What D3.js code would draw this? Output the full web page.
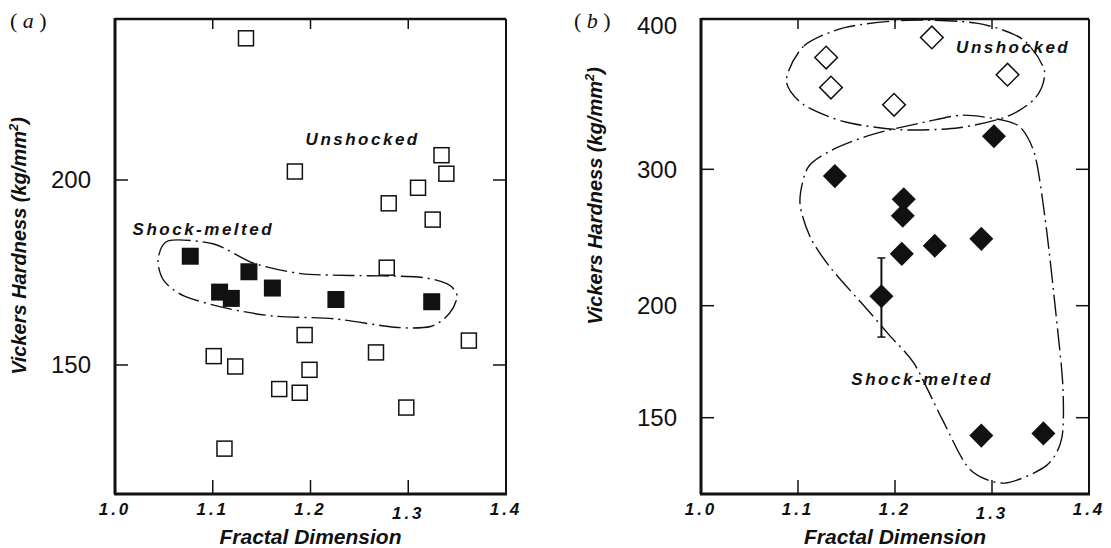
<!DOCTYPE html>
<html>
<head>
<meta charset="utf-8">
<script src="https://cdn.jsdelivr.net/npm/d3@7/dist/d3.min.js"></script>
<style>
  body { margin: 0; background: #fff; }
  text { font-family: "Liberation Sans", Arial, sans-serif; fill: #111; }
</style>
</head>
<body>
<div id="chart"></div>
<script>
// Panel (a) data: fractal dimension vs Vickers hardness
// ======================================================
var aUnshockedDim  = [1.134, 1.184, 1.334, 1.339, 1.310, 1.280, 1.325, 1.278, 1.194, 1.362, 1.267, 1.101, 1.123, 1.199, 1.168, 1.189, 1.298, 1.112];
var aUnshockedHard = [238.3, 202.3, 206.7, 201.7, 197.9, 193.7, 189.3, 176.3, 158.1, 156.6, 153.4, 152.4, 149.6, 148.7, 143.5, 142.5, 138.5, 127.4];
var aMeltedDim  = [1.077, 1.137, 1.107, 1.119, 1.161, 1.226, 1.324];
var aMeltedHard = [179.4, 175.2, 169.7, 168.0, 170.8, 167.7, 167.1];

// Panel (b) data
// ==============
var bUnshockedDim  = [1.238, 1.129, 1.316, 1.134, 1.199];
var bUnshockedHard = [392, 378, 366, 357, 345];
var bMeltedDim  = [1.302, 1.138, 1.209, 1.208, 1.207, 1.241, 1.289, 1.186, 1.289, 1.353];
var bMeltedHard = [323, 295, 278, 266, 238, 244, 249, 207, 142, 143];
// one error bar (on the point at 1.186)
var bErrDim = [1.186];
var bErrLow = [186];
var bErrHigh = [235];

// tick values
var xTicks = [1.0, 1.1, 1.2, 1.3, 1.4];
var aYTicks = [150, 200];
var bYTicks = [150, 200, 300, 400];

// hand drawn group outlines, in data units
var aMeltedOutline = [[1.044,178.5],[1.055,183.6],[1.101,182.7],[1.142,177.5],[1.190,174.7],[1.241,174.2],[1.310,173.8],[1.340,171.9],[1.350,168.6],[1.342,163.9],[1.323,160.4],[1.286,160.2],[1.224,162.5],[1.163,163.2],[1.115,165.3],[1.071,168.6],[1.050,172.8]];
var bUnshockedOutline = [[1.088,362],[1.106,386],[1.149,399],[1.213,404],[1.284,402],[1.331,391],[1.354,369],[1.345,350],[1.316,337],[1.266,329],[1.206,327.6],[1.149,333],[1.106,345]];
var bMeltedOutline = [[1.313,334],[1.331,328],[1.345,308],[1.356,257],[1.366,196],[1.373,164.5],[1.372,141],[1.356,128.6],[1.313,120.8],[1.277,127],[1.249,149],[1.220,174],[1.195,186.4],[1.170,199],[1.135,226.5],[1.113,249.7],[1.102,275.5],[1.110,301],[1.135,313.4],[1.177,324.4],[1.231,333],[1.270,337.8]];

var svgWidth = 1111;
var svgHeight = 548;

var svg = d3.select("#chart")
  .append("svg")
  .attr("width", svgWidth)
  .attr("height", svgHeight);

var dashDot = "22,5,2,5";

// Draw one panel: frame, ticks, labels
// ====================================
function drawFrame(p) {
  var g = svg.append("g");
  var x = p.x, y = p.y;
  var x0 = x.range()[0], x1 = x.range()[1];
  var top = p.top, bottom = p.bottom;

  // frame
  g.append("line").attr("x1", x0).attr("x2", x1).attr("y1", top).attr("y2", top)
    .attr("stroke", "#111").attr("stroke-width", 2.5);
  g.append("line").attr("x1", x1).attr("x2", x1).attr("y1", top).attr("y2", bottom)
    .attr("stroke", "#111").attr("stroke-width", 2);
  g.append("line").attr("x1", x0 - 1).attr("x2", x1 + 1).attr("y1", bottom).attr("y2", bottom)
    .attr("stroke", "#111").attr("stroke-width", 3);
  g.append("line").attr("x1", x0).attr("x2", x0).attr("y1", top - 1).attr("y2", bottom)
    .attr("stroke", "#111").attr("stroke-width", 3);

  var inner = xTicks.filter(d => d > 1.0 && d < 1.4);

  // x ticks bottom and top (inward)
  g.selectAll(".xtb").data(inner).enter().append("line")
    .attr("x1", d => x(d)).attr("x2", d => x(d))
    .attr("y1", bottom).attr("y2", bottom - 14)
    .attr("stroke", "#111").attr("stroke-width", 1.5);
  g.selectAll(".xtt").data(inner).enter().append("line")
    .attr("x1", d => x(d)).attr("x2", d => x(d))
    .attr("y1", top).attr("y2", top + 10)
    .attr("stroke", "#111").attr("stroke-width", 1.5);

  // x tick labels
  g.selectAll(".xl").data(xTicks).enter().append("text")
    .attr("x", d => x(d))
    .attr("y", d => bottom + (d === 1.3 ? 25 : 21))
    .attr("text-anchor", "middle")
    .style("font-size", "17px")
    .style("font-weight", "bold")
    .style("font-style", "italic")
    .style("letter-spacing", "3px")
    .text(d => d.toFixed(1));

  // y ticks left and right (inward)
  var yIn = p.yTicks.filter(d => y(d) > top + 8);
  g.selectAll(".ytl").data(yIn).enter().append("line")
    .attr("x1", x0).attr("x2", x0 + 13)
    .attr("y1", d => y(d)).attr("y2", d => y(d))
    .attr("stroke", "#111").attr("stroke-width", 1.5);
  g.selectAll(".ytr").data(yIn).enter().append("line")
    .attr("x1", x1).attr("x2", x1 - 13)
    .attr("y1", d => y(d)).attr("y2", d => y(d))
    .attr("stroke", "#111").attr("stroke-width", 1.5);

  // y tick labels
  g.selectAll(".yl").data(p.yTicks).enter().append("text")
    .attr("x", x0 - 24)
    .attr("y", d => Math.max(y(d), top + 3))
    .attr("dy", "0.35em")
    .attr("text-anchor", "end")
    .style("font-size", "24px")
    .text(d => d);

  // axis titles
  g.append("text")
    .attr("x", (x0 + x1) / 2)
    .attr("y", bottom + 50)
    .attr("text-anchor", "middle")
    .style("font-size", "21px")
    .style("font-weight", "bold")
    .style("font-style", "italic")
    .text("Fractal Dimension");

  g.append("text")
    .attr("transform", `translate(${p.yTitleX}, ${p.yTitleY}) rotate(-90)`)
    .attr("text-anchor", "middle")
    .style("font-size", "20px")
    .style("font-weight", "bold")
    .style("font-style", "italic")
    .html("Vickers Hardness (kg/mm<tspan dy='-8' font-size='13px'>2</tspan><tspan dy='8'>)</tspan>");

  // panel letter
  g.append("text")
    .attr("x", p.letterX)
    .attr("y", p.letterY)
    .style("font-family", "'Liberation Serif', 'DejaVu Serif', serif")
    .style("font-size", "22px")
    .html("( <tspan font-style='italic'>" + p.letter + "</tspan> )");

  return g;
}

function outline(g, x, y, pts) {
  var line = d3.line()
    .x(d => x(d[0]))
    .y(d => y(d[1]))
    .curve(d3.curveCardinalClosed.tension(0.2));
  g.append("path")
    .attr("d", line(pts))
    .attr("fill", "none")
    .attr("stroke", "#111")
    .attr("stroke-width", 1.4)
    .attr("stroke-dasharray", dashDot);
}

function label(g, x, y, pos, txt) {
  g.append("text")
    .attr("x", x(pos[0]))
    .attr("y", y(pos[1]))
    .attr("dy", "0.35em")
    .style("font-size", "17px")
    .style("font-weight", "bold")
    .style("font-style", "italic")
    .style("letter-spacing", "2.5px")
    .text(txt);
}

// Panel (a)
// =========
var ax = d3.scaleLinear().domain([1.0, 1.4]).range([115, 506]);
var ay = d3.scaleLinear().domain([150, 200]).range([365, 180]);
var ga = drawFrame({ x: ax, y: ay, top: 19, bottom: 494, yTicks: aYTicks,
  yTitleX: 26, yTitleY: 246, letter: "a", letterX: 10, letterY: 28 });

outline(ga, ax, ay, aMeltedOutline);
label(ga, ax, ay, [1.195, 211], "Unshocked");
label(ga, ax, ay, [1.018, 186.7], "Shock-melted");

var aUn = d3.zip(aUnshockedDim, aUnshockedHard);
ga.selectAll(".sqo").data(aUn).enter().append("rect")
  .attr("x", d => ax(d[0]) - 7.5)
  .attr("y", d => ay(d[1]) - 7.5)
  .attr("width", 15).attr("height", 15)
  .attr("fill", "#fff")
  .attr("stroke", "#111")
  .attr("stroke-width", 1.5);

var aMe = d3.zip(aMeltedDim, aMeltedHard);
ga.selectAll(".sqf").data(aMe).enter().append("rect")
  .attr("x", d => ax(d[0]) - 8.5)
  .attr("y", d => ay(d[1]) - 8.5)
  .attr("width", 17).attr("height", 17)
  .attr("fill", "#111");

// Panel (b)
// =========
var bx = d3.scaleLinear().domain([1.0, 1.4]).range([701, 1089]);
// the printed axis is not evenly spaced; map through its own tick marks
var by = d3.scaleLinear().domain([150, 200, 300, 400]).range([417.7, 305.7, 169.3, 26]);
var gb = drawFrame({ x: bx, y: by, top: 19, bottom: 494, yTicks: bYTicks,
  yTitleX: 602, yTitleY: 196, letter: "b", letterX: 574, letterY: 28 });

outline(gb, bx, by, bUnshockedOutline);
outline(gb, bx, by, bMeltedOutline);
label(gb, bx, by, [1.263, 385.4], "Unshocked");
label(gb, bx, by, [1.155, 167.3], "Shock-melted");

// error bar
var err = d3.zip(bErrDim, bErrLow, bErrHigh);
gb.selectAll(".eb").data(err).enter().append("line")
  .attr("x1", d => bx(d[0])).attr("x2", d => bx(d[0]))
  .attr("y1", d => by(d[1])).attr("y2", d => by(d[2]))
  .attr("stroke", "#111").attr("stroke-width", 2);
gb.selectAll(".ebl").data(err).enter().append("line")
  .attr("x1", d => bx(d[0]) - 4).attr("x2", d => bx(d[0]) + 4)
  .attr("y1", d => by(d[1])).attr("y2", d => by(d[1]))
  .attr("stroke", "#111").attr("stroke-width", 1.5);
gb.selectAll(".ebh").data(err).enter().append("line")
  .attr("x1", d => bx(d[0]) - 4).attr("x2", d => bx(d[0]) + 4)
  .attr("y1", d => by(d[2])).attr("y2", d => by(d[2]))
  .attr("stroke", "#111").attr("stroke-width", 1.5);

var bUn = d3.zip(bUnshockedDim, bUnshockedHard);
gb.selectAll(".dmo").data(bUn).enter().append("rect")
  .attr("x", -8).attr("y", -8)
  .attr("width", 16).attr("height", 16)
  .attr("transform", d => `translate(${bx(d[0])}, ${by(d[1])}) rotate(45)`)
  .attr("fill", "#fff")
  .attr("stroke", "#111")
  .attr("stroke-width", 1.5);

var bMe = d3.zip(bMeltedDim, bMeltedHard);
gb.selectAll(".dmf").data(bMe).enter().append("rect")
  .attr("x", -8.5).attr("y", -8.5)
  .attr("width", 17).attr("height", 17)
  .attr("transform", d => `translate(${bx(d[0])}, ${by(d[1])}) rotate(45)`)
  .attr("fill", "#111");
</script>
</body>
</html>
